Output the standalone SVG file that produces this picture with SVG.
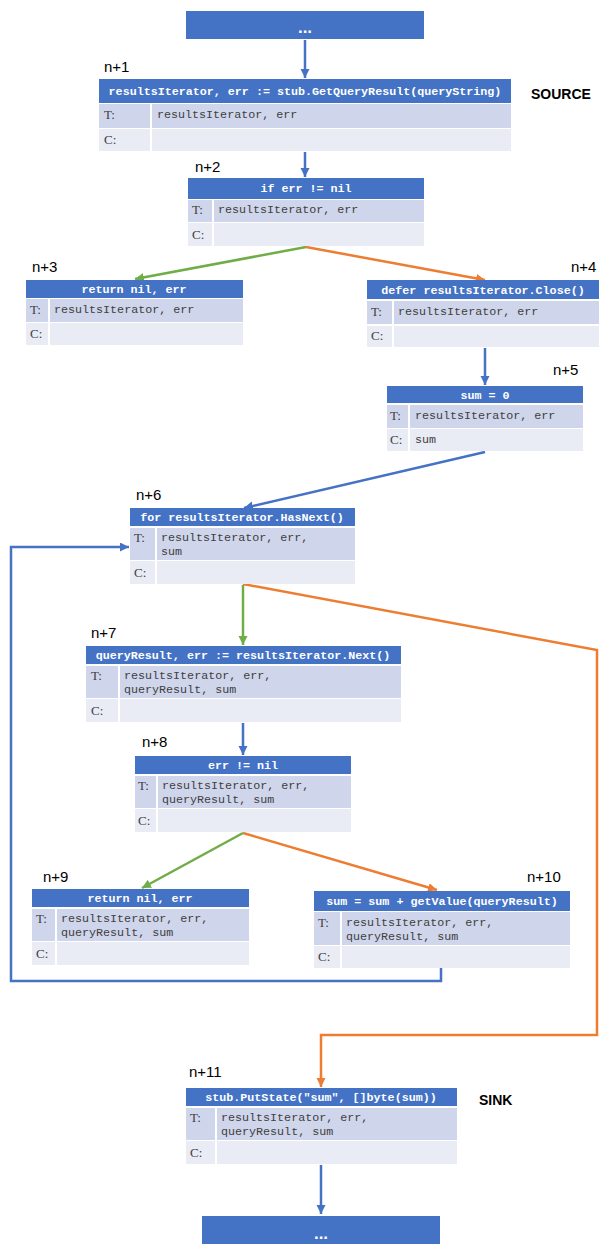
<svg xmlns="http://www.w3.org/2000/svg" width="599" height="1244" viewBox="0 0 599 1244">
  <style>
    .hdr { fill: #4472C4; }
    .rt { fill: #CFD5EA; }
    .rc { fill: #E9EBF5; }
    .div { stroke: #FFFFFF; stroke-width: 2; }
    .htxt { font-family: "Liberation Mono", "Courier New", monospace; font-weight: bold; font-size: 11.7px; fill: #FFFFFF; text-anchor: middle; }
    .vtxt { font-family: "Liberation Mono", "Courier New", monospace; font-size: 11.7px; fill: #404040; }
    .ktxt { font-family: "Liberation Serif", "Times New Roman", serif; font-size: 13px; fill: #404040; }
    .ntxt { font-family: "Liberation Sans", Arial, sans-serif; font-size: 15px; fill: #000000; }
    .tag { font-family: "Liberation Sans", Arial, sans-serif; font-weight: bold; font-size: 14px; fill: #000000; }
    .dots { font-family: "Liberation Sans", Arial, sans-serif; font-weight: bold; font-size: 17px; fill: #FFFFFF; text-anchor: middle; }
    .e { fill: none; stroke-width: 2.5; }
    .blue { stroke: #4472C4; }
    .green { stroke: #70AD47; }
    .orange { stroke: #ED7D31; }
  </style>
  <defs>
    <marker id="ahBlue" markerUnits="userSpaceOnUse" markerWidth="10" markerHeight="10" refX="9" refY="4.5" orient="auto">
      <path d="M0,0 L9,4.5 L0,9 z" fill="#4472C4"/>
    </marker>
    <marker id="ahGreen" markerUnits="userSpaceOnUse" markerWidth="10" markerHeight="10" refX="9" refY="4.5" orient="auto">
      <path d="M0,0 L9,4.5 L0,9 z" fill="#70AD47"/>
    </marker>
    <marker id="ahOrange" markerUnits="userSpaceOnUse" markerWidth="10" markerHeight="10" refX="9" refY="4.5" orient="auto">
      <path d="M0,0 L9,4.5 L0,9 z" fill="#ED7D31"/>
    </marker>
  </defs>
  <rect width="599" height="1244" fill="#FFFFFF"/>

  <!-- connectors -->
  <g id="connectors">
    <path class="e blue" d="M305,40 L305,78" marker-end="url(#ahBlue)"/>
    <path class="e blue" d="M305,152 L305,177" marker-end="url(#ahBlue)"/>
    <path class="e green" d="M306,247 L135,279" marker-end="url(#ahGreen)"/>
    <path class="e orange" d="M306,247 L485,280" marker-end="url(#ahOrange)"/>
    <path class="e blue" d="M485,348 L485,385" marker-end="url(#ahBlue)"/>
    <path class="e blue" d="M485,452 L244,508" marker-end="url(#ahBlue)"/>
    <path class="e green" d="M243,585 L243,645" marker-end="url(#ahGreen)"/>
    <path class="e orange" d="M243,584 L597,650 L597,1035 L321,1035 L321,1087" marker-end="url(#ahOrange)"/>
    <path class="e blue" d="M243,723 L243,755" marker-end="url(#ahBlue)"/>
    <path class="e green" d="M243,833 L142,888" marker-end="url(#ahGreen)"/>
    <path class="e orange" d="M243,833 L437,890" marker-end="url(#ahOrange)"/>
    <path class="e blue" d="M441,968 L441,981 L11,981 L11,547 L129,547" marker-end="url(#ahBlue)"/>
    <path class="e blue" d="M321,1165 L321,1214" marker-end="url(#ahBlue)"/>
  </g>

  <!-- entry block -->
  <g id="start">
    <rect class="hdr" x="186" y="11" width="238" height="28"/>
    <text class="dots" x="305" y="33">...</text>
  </g>

  <!-- n+1 -->
  <g id="n1">
    <text class="ntxt" x="104" y="72">n+1</text>
    <rect class="hdr" x="99" y="79" width="412" height="24"/>
    <text class="htxt" x="305" y="95">resultsIterator, err := stub.GetQueryResult(queryString)</text>
    <rect class="rt" x="99" y="104" width="412" height="24"/>
    <rect class="rc" x="99" y="129" width="412" height="22"/>
    <line class="div" x1="151" y1="104" x2="151" y2="151"/>
    <text class="ktxt" x="104" y="119">T:</text>
    <text class="vtxt" x="157" y="118">resultsIterator, err</text>
    <text class="ktxt" x="104" y="144">C:</text>
    <text class="tag" x="531" y="99">SOURCE</text>
  </g>

  <!-- n+2 -->
  <g id="n2">
    <text class="ntxt" x="195" y="172">n+2</text>
    <rect class="hdr" x="188" y="178" width="236" height="21"/>
    <text class="htxt" x="306" y="192">if err != nil</text>
    <rect class="rt" x="188" y="200" width="236" height="22"/>
    <rect class="rc" x="188" y="223" width="236" height="23"/>
    <line class="div" x1="213" y1="200" x2="213" y2="246"/>
    <text class="ktxt" x="192" y="214">T:</text>
    <text class="vtxt" x="218" y="213">resultsIterator, err</text>
    <text class="ktxt" x="192" y="239">C:</text>
  </g>

  <!-- n+3 -->
  <g id="n3">
    <text class="ntxt" x="32" y="272">n+3</text>
    <rect class="hdr" x="26" y="280" width="217" height="18"/>
    <text class="htxt" x="134" y="293">return nil, err</text>
    <rect class="rt" x="26" y="299" width="217" height="23"/>
    <rect class="rc" x="26" y="323" width="217" height="22"/>
    <line class="div" x1="49" y1="299" x2="49" y2="345"/>
    <text class="ktxt" x="30" y="314">T:</text>
    <text class="vtxt" x="54" y="313">resultsIterator, err</text>
    <text class="ktxt" x="30" y="338">C:</text>
  </g>

  <!-- n+4 -->
  <g id="n4">
    <text class="ntxt" x="571" y="272">n+4</text>
    <rect class="hdr" x="367" y="280" width="232" height="19"/>
    <text class="htxt" x="483" y="293.5">defer resultsIterator.Close()</text>
    <rect class="rt" x="367" y="301" width="232" height="23"/>
    <rect class="rc" x="367" y="326" width="232" height="21"/>
    <line class="div" x1="393" y1="301" x2="393" y2="347"/>
    <text class="ktxt" x="371" y="316">T:</text>
    <text class="vtxt" x="398" y="315">resultsIterator, err</text>
    <text class="ktxt" x="371" y="340">C:</text>
  </g>

  <!-- n+5 -->
  <g id="n5">
    <text class="ntxt" x="553" y="375">n+5</text>
    <rect class="hdr" x="387" y="386" width="196" height="17"/>
    <text class="htxt" x="485" y="398.5">sum = 0</text>
    <rect class="rt" x="387" y="405" width="196" height="23"/>
    <rect class="rc" x="387" y="429" width="196" height="22"/>
    <line class="div" x1="409" y1="405" x2="409" y2="451"/>
    <text class="ktxt" x="390" y="420">T:</text>
    <text class="vtxt" x="415" y="419">resultsIterator, err</text>
    <text class="ktxt" x="390" y="444">C:</text>
    <text class="vtxt" x="415" y="443">sum</text>
  </g>

  <!-- n+6 -->
  <g id="n6">
    <text class="ntxt" x="136" y="500">n+6</text>
    <rect class="hdr" x="130" y="508" width="225" height="18"/>
    <text class="htxt" x="242" y="521">for resultsIterator.HasNext()</text>
    <rect class="rt" x="130" y="528" width="225" height="32"/>
    <rect class="rc" x="130" y="561" width="225" height="23"/>
    <line class="div" x1="156" y1="528" x2="156" y2="584"/>
    <text class="ktxt" x="134" y="542">T:</text>
    <text class="vtxt" x="161" y="541">resultsIterator, err,</text>
    <text class="vtxt" x="161" y="554.5">sum</text>
    <text class="ktxt" x="134" y="577">C:</text>
  </g>

  <!-- n+7 -->
  <g id="n7">
    <text class="ntxt" x="91" y="638">n+7</text>
    <rect class="hdr" x="86" y="646" width="315" height="18"/>
    <text class="htxt" x="243" y="659">queryResult, err := resultsIterator.Next()</text>
    <rect class="rt" x="86" y="666" width="315" height="32"/>
    <rect class="rc" x="86" y="699" width="315" height="23"/>
    <line class="div" x1="119" y1="666" x2="119" y2="722"/>
    <text class="ktxt" x="91" y="680">T:</text>
    <text class="vtxt" x="124" y="679">resultsIterator, err,</text>
    <text class="vtxt" x="124" y="692.5">queryResult, sum</text>
    <text class="ktxt" x="91" y="715">C:</text>
  </g>

  <!-- n+8 -->
  <g id="n8">
    <text class="ntxt" x="142" y="747">n+8</text>
    <rect class="hdr" x="135" y="756" width="216" height="18"/>
    <text class="htxt" x="243" y="769">err != nil</text>
    <rect class="rt" x="135" y="776" width="216" height="32"/>
    <rect class="rc" x="135" y="809" width="216" height="23"/>
    <line class="div" x1="157" y1="776" x2="157" y2="832"/>
    <text class="ktxt" x="138" y="790">T:</text>
    <text class="vtxt" x="162" y="789">resultsIterator, err,</text>
    <text class="vtxt" x="162" y="802.5">queryResult, sum</text>
    <text class="ktxt" x="138" y="825">C:</text>
  </g>

  <!-- n+9 -->
  <g id="n9">
    <text class="ntxt" x="43" y="882">n+9</text>
    <rect class="hdr" x="32" y="889" width="217" height="18"/>
    <text class="htxt" x="140" y="902">return nil, err</text>
    <rect class="rt" x="32" y="909" width="217" height="32"/>
    <rect class="rc" x="32" y="942" width="217" height="23"/>
    <line class="div" x1="56" y1="909" x2="56" y2="965"/>
    <text class="ktxt" x="36" y="923">T:</text>
    <text class="vtxt" x="61" y="922">resultsIterator, err,</text>
    <text class="vtxt" x="61" y="935.5">queryResult, sum</text>
    <text class="ktxt" x="36" y="958">C:</text>
  </g>

  <!-- n+10 -->
  <g id="n10">
    <text class="ntxt" x="527" y="882">n+10</text>
    <rect class="hdr" x="314" y="891" width="256" height="20"/>
    <text class="htxt" x="442" y="905">sum = sum + getValue(queryResult)</text>
    <rect class="rt" x="314" y="912" width="256" height="33"/>
    <rect class="rc" x="314" y="946" width="256" height="22"/>
    <line class="div" x1="341" y1="912" x2="341" y2="968"/>
    <text class="ktxt" x="318" y="927">T:</text>
    <text class="vtxt" x="346" y="926">resultsIterator, err,</text>
    <text class="vtxt" x="346" y="939.5">queryResult, sum</text>
    <text class="ktxt" x="318" y="961">C:</text>
  </g>

  <!-- n+11 -->
  <g id="n11">
    <text class="ntxt" x="189" y="1077">n+11</text>
    <rect class="hdr" x="186" y="1088" width="271" height="18"/>
    <text class="htxt" x="321" y="1101">stub.PutState("sum", []byte(sum))</text>
    <rect class="rt" x="186" y="1108" width="271" height="32"/>
    <rect class="rc" x="186" y="1141" width="271" height="23"/>
    <line class="div" x1="216" y1="1108" x2="216" y2="1164"/>
    <text class="ktxt" x="190" y="1122">T:</text>
    <text class="vtxt" x="221" y="1121">resultsIterator, err,</text>
    <text class="vtxt" x="221" y="1134.5">queryResult, sum</text>
    <text class="ktxt" x="190" y="1157">C:</text>
    <text class="tag" x="479" y="1105">SINK</text>
  </g>

  <!-- exit block -->
  <g id="end">
    <rect class="hdr" x="202" y="1216" width="238" height="28"/>
    <text class="dots" x="321" y="1239">...</text>
  </g>
</svg>
